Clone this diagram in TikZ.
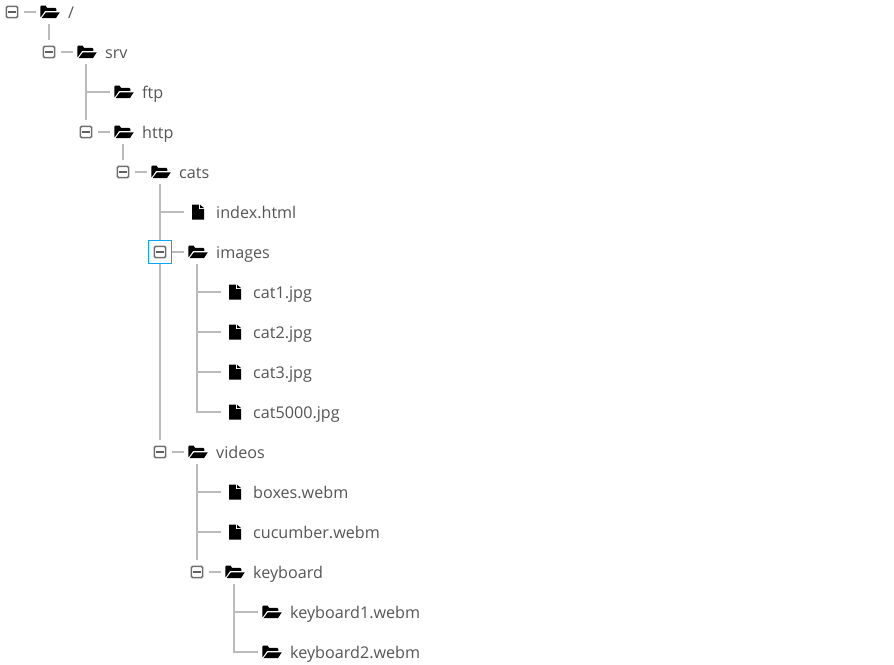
\documentclass[tikz,border=0pt]{standalone}
\usepackage{fontspec}
\setmainfont{Open Sans}
\definecolor{linegray}{HTML}{BBBBBB}
\definecolor{txtgray}{HTML}{555555}
\definecolor{togglegray}{HTML}{707070}
\definecolor{focusblue}{HTML}{0AA5F0}
\tikzset{
  treeline/.style={draw=linegray,line width=2pt},
  togglebox/.style={minimum size=24pt,inner sep=0pt,outer sep=0pt,
    path picture={
      \begin{scope}[shift={(path picture bounding box.center)}]
        \draw[togglegray,line width=1.5pt,rounded corners=1.2pt] (-5.6,-5.6) rectangle (5.6,5.6);
        \draw[togglegray!85!black,line width=2pt] (-4.2,0) -- (4.2,0);
      \end{scope}}},
  foldericon/.style={minimum width=26pt,minimum height=24pt,inner sep=0pt,outer sep=0pt,
    path picture={
      \begin{scope}[shift={(path picture bounding box.center)}]
        \fill[black] (-8.54,5.22) -- (-8.54,-5.4) -- (-8.01,-6.34) -- (-3.45,-6.34) -- (-1.97,-4.22) -- (6.3,-4.22) -- (7.36,-3.04) -- (7.36,-1.15)
           -- (-3.88,-1.15) -- (-7.48,4.04) -- cycle;
        \fill[black] (-3.03,0.26) -- (10.75,0.26) -- (6.94,6.16) -- (-7.48,6.16) -- cycle;
      \end{scope}}},
  fileicon/.style={minimum width=26pt,minimum height=24pt,inner sep=0pt,outer sep=0pt,
    path picture={
      \begin{scope}[shift={(path picture bounding box.center)}]
        \fill[black] (-5,-7.3) -- (1.8,-7.3) -- (1.8,-2.8) -- (7,-2.8) -- (7,7.7) -- (-5,7.7) -- cycle;
        \fill[black] (3,-7.3) -- (7,-4) -- (3,-4) -- cycle;
      \end{scope}}},
  labeltext/.style={anchor=base west,inner sep=0pt,text=txtgray,font=\fontsize{16.15}{16}\selectfont},
  focusring/.style={draw=focusblue,line width=1.3pt,minimum size=22.7pt,inner sep=0pt}
}
\begin{document}
\begin{tikzpicture}[x=1pt,y=-1pt]
\useasboundingbox (0,0) rectangle (894,664);
\fill[white] (0,0) rectangle (894,664);
% toggles
\node[togglebox] (t0) at (12,12) {};
\node[togglebox] (t1) at (49,52) {};
\node[togglebox] (t2) at (86,132) {};
\node[togglebox] (t3) at (123,172) {};
\node[togglebox] (t4) at (160,252) {};
\node[togglebox] (t5) at (160,452) {};
\node[togglebox] (t6) at (197,572) {};
\node[focusring] (ring) at (160,252) {};
% icons
\node[foldericon] (i0) at (49,12) {};
\node[foldericon] (i1) at (86,52) {};
\node[foldericon] (i2) at (123,92) {};
\node[foldericon] (i3) at (123,132) {};
\node[foldericon] (i4) at (160,172) {};
\node[fileicon] (i5) at (197,212) {};
\node[foldericon] (i6) at (197,252) {};
\node[fileicon] (i7) at (234,292) {};
\node[fileicon] (i8) at (234,332) {};
\node[fileicon] (i9) at (234,372) {};
\node[fileicon] (i10) at (234,412) {};
\node[foldericon] (i11) at (197,452) {};
\node[fileicon] (i12) at (234,492) {};
\node[fileicon] (i13) at (234,532) {};
\node[foldericon] (i14) at (234,572) {};
\node[foldericon] (i15) at (271,612) {};
\node[foldericon] (i16) at (271,652) {};
% labels
\node[labeltext] (l0) at (68,18) {/};
\node[labeltext] (l1) at (105,58) {srv};
\node[labeltext] (l2) at (142,98) {ftp};
\node[labeltext] (l3) at (142,138) {http};
\node[labeltext] (l4) at (179,178) {cats};
\node[labeltext] (l5) at (216,218) {index.html};
\node[labeltext] (l6) at (216,258) {images};
\node[labeltext] (l7) at (253,298) {cat1.jpg};
\node[labeltext] (l8) at (253,338) {cat2.jpg};
\node[labeltext] (l9) at (253,378) {cat3.jpg};
\node[labeltext] (l10) at (253,418) {cat5000.jpg};
\node[labeltext] (l11) at (216,458) {videos};
\node[labeltext] (l12) at (253,498) {boxes.webm};
\node[labeltext] (l13) at (253,538) {cucumber.webm};
\node[labeltext] (l14) at (253,578) {keyboard};
\node[labeltext] (l15) at (290,618) {keyboard1.webm};
\node[labeltext] (l16) at (290,658) {keyboard2.webm};
% toggle to icon
\draw[treeline] (t0.east) -- (i0.west);
\draw[treeline] (t1.east) -- (i1.west);
\draw[treeline] (t2.east) -- (i3.west);
\draw[treeline] (t3.east) -- (i4.west);
\draw[treeline] (t4.east) -- (i6.west);
\draw[treeline] (t5.east) -- (i11.west);
\draw[treeline] (t6.east) -- (i14.west);
% stems
\draw[treeline] (i0.south) -- (t1.north);
\draw[treeline] (i1.south) -- (t2.north);
\draw[treeline] (i1.south |- i2.west) -- (i2.west);
\draw[treeline] (i3.south) -- (t3.north);
\draw[treeline] (i4.south) -- (t4.north);
\draw[treeline] (t4.south) -- (t5.north);
\draw[treeline] (i4.south |- i5.west) -- (i5.west);
\draw[treeline] (i6.south) |- (i10.west);
\draw[treeline] (i6.south |- i7.west) -- (i7.west);
\draw[treeline] (i6.south |- i8.west) -- (i8.west);
\draw[treeline] (i6.south |- i9.west) -- (i9.west);
\draw[treeline] (i11.south) -- (t6.north);
\draw[treeline] (i11.south |- i12.west) -- (i12.west);
\draw[treeline] (i11.south |- i13.west) -- (i13.west);
\draw[treeline] (i14.south) |- (i16.west);
\draw[treeline] (i14.south |- i15.west) -- (i15.west);
\end{tikzpicture}
\end{document}
